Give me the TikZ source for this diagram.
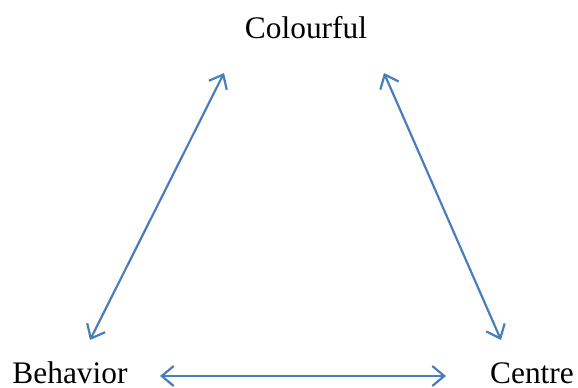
\documentclass[tikz,border=0pt]{standalone}
\usepackage{fontspec}
\setmainfont{Liberation Serif}
\usetikzlibrary{arrows.meta}
\definecolor{arrowblue}{HTML}{4A7EBB}
\begin{document}
\begin{tikzpicture}[x=1bp,y=-1bp,
  lbl/.style={anchor=base,inner sep=0pt,text depth=0pt,font=\fontsize{31.5}{36}\selectfont},
  link/.style={draw=arrowblue,line width=2.2bp,{Straight Barb[length=12bp,width=20bp,line width=2.2bp]}-{Straight Barb[length=12bp,width=20bp,line width=2.2bp]}}]
\useasboundingbox (0,0) rectangle (578,387);
\node[lbl] (col) at (306,38) {Colourful};
\node[lbl] (beh) at (70,383) {Behavior};
\node[lbl] (cen) at (532,383) {Centre};
\coordinate (colL) at (224,73);
\coordinate (behT) at (90,340);
\coordinate (colR) at (384,73);
\coordinate (cenT) at (501,340);
\coordinate (behR) at (160,376);
\coordinate (cenL) at (446,376);
\draw[link] (colL) -- (behT);
\draw[link] (colR) -- (cenT);
\draw[link] (behR) -- (cenL);
\end{tikzpicture}
\end{document}
